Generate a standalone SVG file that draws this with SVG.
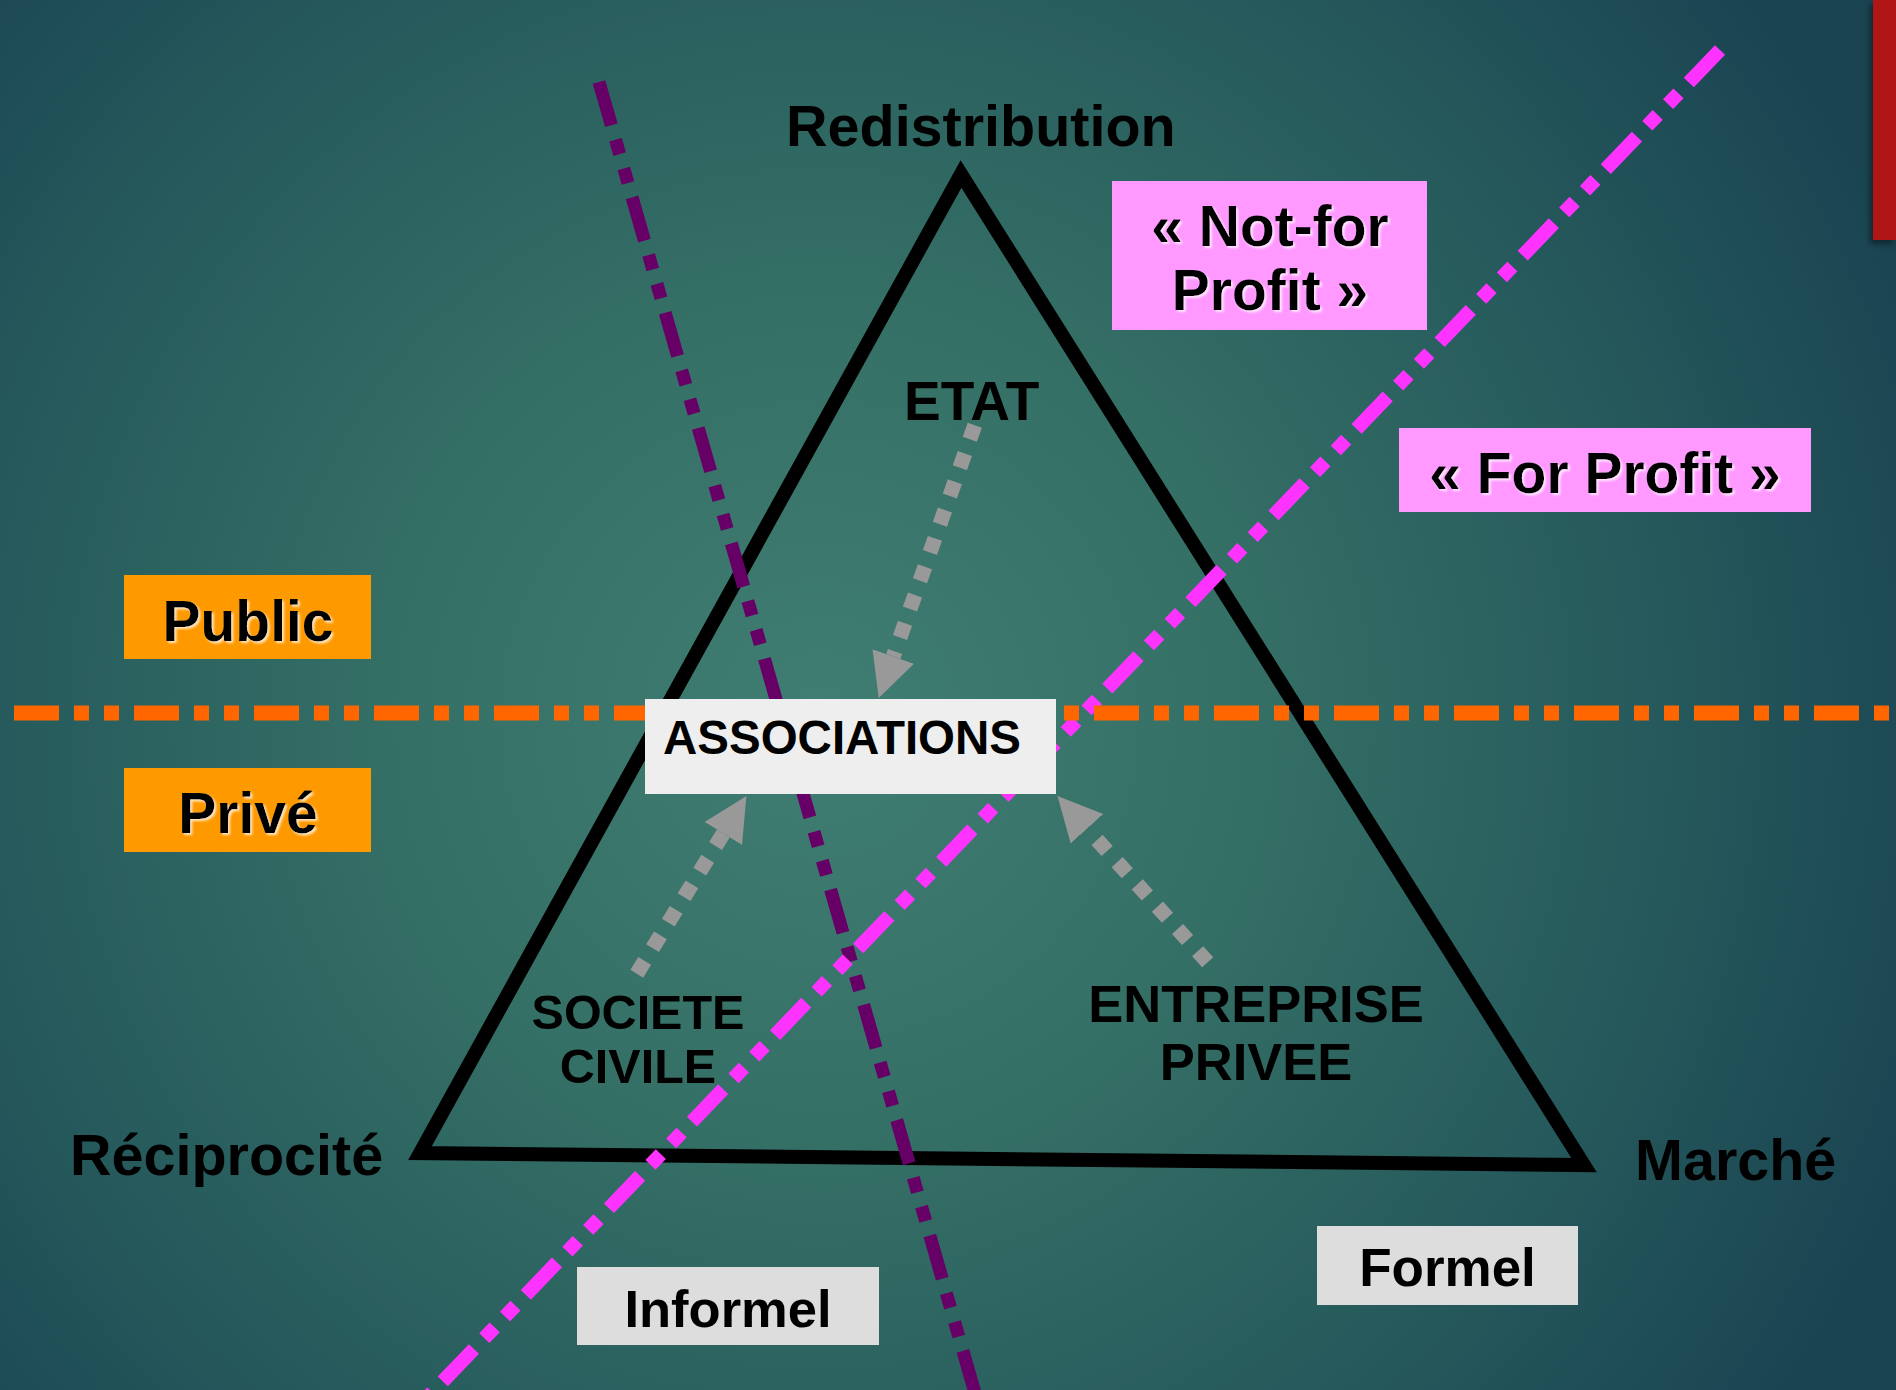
<svg xmlns="http://www.w3.org/2000/svg" width="1896" height="1390" viewBox="0 0 1896 1390">
  <defs>
    <radialGradient id="bg" gradientUnits="userSpaceOnUse" cx="820" cy="720" r="1180">
      <stop offset="0" stop-color="#407d72"/>
      <stop offset="0.35" stop-color="#357066"/>
      <stop offset="0.7" stop-color="#265a5c"/>
      <stop offset="1" stop-color="#1a4452"/>
    </radialGradient>
    <filter id="lift" x="-10%" y="-20%" width="120%" height="140%">
      <feDropShadow dx="2" dy="2" stdDeviation="1" flood-color="#ffffff" flood-opacity="0.75"/>
    </filter>
    <filter id="barShadow" x="-50%" y="-10%" width="200%" height="130%">
      <feDropShadow dx="-3" dy="4" stdDeviation="3" flood-color="#000000" flood-opacity="0.45"/>
    </filter>
    <marker id="head" markerUnits="userSpaceOnUse" markerWidth="46" markerHeight="46" refX="0" refY="22" orient="auto">
      <path d="M0,0 L44,22 L0,44 z" fill="#999999"/>
    </marker>
    <style>
      .lbl { font-family: "Liberation Sans", Arial, sans-serif; font-weight: bold; fill: #000000; }
      .divider { fill: none; stroke-dasharray: 45 15 15 15 15 15; stroke-linecap: butt; }
      .flow { fill: none; stroke: #999999; stroke-width: 15; stroke-dasharray: 15 15; marker-end: url(#head); }
      .tag-orange { fill: #ff9900; }
      .tag-pink { fill: #ff99ff; }
      .tag-grey { fill: #dddddd; }
    </style>
  </defs>

  <!-- backdrop -->
  <rect x="0" y="0" width="1896" height="1390" fill="url(#bg)"/>
  <rect x="1873" y="0" width="23" height="240" fill="#b01818" filter="url(#barShadow)"/>

  <!-- triangle of the three economic principles -->
  <g id="triangle">
    <polygon points="961,174 1584,1165 420,1153" fill="none" stroke="#000000" stroke-width="14" stroke-linejoin="miter" stroke-miterlimit="10"/>
  </g>

  <!-- dividing lines -->
  <g id="dividers">
    <line class="divider" x1="599" y1="82" x2="977" y2="1400" stroke="#660066" stroke-width="13"/>
    <line class="divider" x1="1720" y1="50" x2="425" y2="1400" stroke="#ff33ff" stroke-width="14"/>
    <line class="divider" x1="14" y1="713" x2="1896" y2="713" stroke="#ff6600" stroke-width="15"/>
  </g>

  <!-- dotted flows towards the associations -->
  <g id="connectors">
    <path class="flow" d="M974.8,425.2 L893.3,656.5"/>
    <path class="flow" d="M636.8,973.7 L723.3,833.5"/>
    <path class="flow" d="M1207.7,962.3 L1087,828.7"/>
  </g>

  <!-- pole labels -->
  <g id="redistribution"><text class="lbl" x="786" y="146" font-size="57.5">Redistribution</text></g>
  <g id="reciprocite"><text class="lbl" x="70" y="1175" font-size="57.5">Réciprocité</text></g>
  <g id="marche"><text class="lbl" x="1635" y="1180" font-size="57.5">Marché</text></g>

  <!-- actors -->
  <g id="etat"><text class="lbl" x="904" y="420" font-size="55">ETAT</text></g>
  <g id="societe-civile">
    <text class="lbl" x="638" y="1029" font-size="48.5" text-anchor="middle">SOCIETE</text>
    <text class="lbl" x="638" y="1083" font-size="48.5" text-anchor="middle">CIVILE</text>
  </g>
  <g id="entreprise-privee">
    <text class="lbl" x="1256" y="1022" font-size="52.5" text-anchor="middle">ENTREPRISE</text>
    <text class="lbl" x="1256" y="1080" font-size="52.5" text-anchor="middle">PRIVEE</text>
  </g>
  <g id="associations">
    <rect x="645" y="699" width="411" height="95" fill="#eeeeee"/>
    <text class="lbl" x="663" y="754" font-size="47.5">ASSOCIATIONS</text>
  </g>

  <!-- sector tags -->
  <g id="public">
    <rect class="tag-orange" x="124" y="575" width="247" height="84"/>
    <text class="lbl" x="248" y="641" font-size="57" text-anchor="middle" filter="url(#lift)">Public</text>
  </g>
  <g id="prive">
    <rect class="tag-orange" x="124" y="768" width="247" height="84"/>
    <text class="lbl" x="248" y="833" font-size="57" text-anchor="middle" filter="url(#lift)">Privé</text>
  </g>
  <g id="not-for-profit">
    <rect class="tag-pink" x="1112" y="181" width="315" height="149"/>
    <text class="lbl" x="1270" y="246" font-size="57" text-anchor="middle" filter="url(#lift)">« Not-for</text>
    <text class="lbl" x="1270" y="310" font-size="57" text-anchor="middle" filter="url(#lift)">Profit »</text>
  </g>
  <g id="for-profit">
    <rect class="tag-pink" x="1399" y="428" width="412" height="84"/>
    <text class="lbl" x="1605" y="493" font-size="57" text-anchor="middle" filter="url(#lift)">« For Profit »</text>
  </g>
  <g id="informel">
    <rect class="tag-grey" x="577" y="1267" width="302" height="78"/>
    <text class="lbl" x="728" y="1327" font-size="52.5" text-anchor="middle">Informel</text>
  </g>
  <g id="formel">
    <rect class="tag-grey" x="1317" y="1226" width="261" height="79"/>
    <text class="lbl" x="1447.5" y="1286" font-size="53" text-anchor="middle">Formel</text>
  </g>
</svg>
